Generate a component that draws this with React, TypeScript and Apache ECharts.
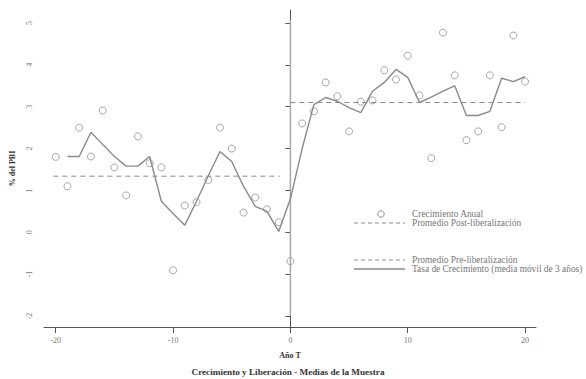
import React, { useEffect, useRef } from "react";
import * as echarts from "echarts";

const years = [-20, -19, -18, -17, -16, -15, -14, -13, -12, -11, -10, -9, -8, -7, -6, -5, -4, -3, -2, -1, 0, 1, 2, 3, 4, 5, 6, 7, 8, 9, 10, 11, 12, 13, 14, 15, 16, 17, 18, 19, 20];
const annualGrowth = [1.8, 1.1, 2.5, 1.81, 2.91, 1.55, 0.88, 2.29, 1.65, 1.55, -0.91, 0.64, 0.72, 1.25, 2.5, 2.0, 0.47, 0.83, 0.55, 0.24, -0.69, 2.6, 2.89, 3.58, 3.25, 2.41, 3.12, 3.15, 3.87, 3.65, 4.22, 3.27, 1.77, 4.77, 3.75, 2.2, 2.41, 3.75, 2.51, 4.7, 3.6];
const maYears = [-19, -18, -17, -16, -15, -14, -13, -12, -11, -10, -9, -8, -7, -6, -5, -4, -3, -2, -1, 0, 1, 2, 3, 4, 5, 6, 7, 8, 9, 10, 11, 12, 13, 14, 15, 16, 17, 18, 19, 20];
const movingAvg = [1.81, 1.81, 2.39, 2.1, 1.81, 1.58, 1.58, 1.81, 0.74, 0.45, 0.17, 0.74, 1.35, 1.93, 1.69, 1.1, 0.62, 0.5, 0.02, 0.8, 2.0, 3.05, 3.22, 3.13, 2.98, 2.86, 3.37, 3.58, 3.89, 3.7, 3.1, 3.23, 3.37, 3.5, 2.79, 2.79, 2.89, 3.68, 3.6, 3.72];
const preAvgX = [-20.2, -0.9];
const preAvg = 1.34;
const postAvgX = [0, 20];
const postAvg = 3.1;
const vLineY = [-2, 5.08];
const xTicks = [-20, -10, 0, 10, 20];
const yTicks = [-2, -1, 0, 1, 2, 3, 4, 5];

const names = {
  annual: "Crecimiento Anual",
  post: "Promedio Post-liberalización",
  pre: "Promedio Pre-liberalización",
  ma: "Tasa de Crecimiento (media móvil de 3 años)",
};

const FONT = "Liberation Serif";
const GREY = "#8a8a8a";
const TXT = "#777777";

export default function App() {
  const ref = useRef<HTMLDivElement>(null);
  useEffect(() => {
    if (!ref.current) return;
    const chart = echarts.init(ref.current, undefined, { renderer: "svg" });
    const lx0 = 354;
    const lx1 = 405;
    const tx = 412;
    const legendText = (text: string, y: number) => ({
      type: "text",
      x: tx,
      y,
      style: { text, fontFamily: FONT, fontSize: 9.4, fill: TXT, verticalAlign: "middle", align: "left" },
    });
    chart.setOption({
      animation: false,
      grid: { left: 40, top: 10, width: 496, height: 317 },
      xAxis: {
        type: "value",
        min: -21,
        max: 20.93,
        name: "Año T",
        nameLocation: "middle",
        nameGap: 24,
        nameTextStyle: { fontFamily: FONT, fontSize: 8, fontWeight: "bold", color: "#333" },
        axisLine: { show: true, onZero: false, lineStyle: { color: "#555", width: 1 } },
        axisTick: { show: true, customValues: xTicks, length: 6, lineStyle: { color: "#555" } },
        axisLabel: { customValues: xTicks, fontFamily: FONT, fontSize: 8, color: TXT, margin: 9 },
        splitLine: { show: false },
      },
      yAxis: {
        type: "value",
        min: -2.263,
        max: 5.31,
        name: "% del PBI",
        nameLocation: "middle",
        nameGap: 28,
        nameRotate: 90,
        nameTextStyle: { fontFamily: FONT, fontSize: 8, fontWeight: "bold", color: "#333" },
        axisLine: { show: true, lineStyle: { color: "#555", width: 1 } },
        axisTick: { show: true, customValues: yTicks, length: 5, lineStyle: { color: "#555" } },
        axisLabel: { customValues: yTicks, rotate: 90, fontFamily: FONT, fontSize: 8, color: TXT, margin: 11 },
        splitLine: { show: false },
      },
      title: {
        text: "Crecimiento y Liberación - Medias de la Muestra",
        left: 288,
        textAlign: "center",
        top: 367,
        textStyle: { fontFamily: FONT, fontSize: 9.2, fontWeight: "bold", color: "#333" },
        padding: 0,
      },
      graphic: [
        {
          type: "circle",
          shape: { cx: 381, cy: 214, r: 3.2 },
          style: { fill: "#fff", stroke: GREY, lineWidth: 1 },
        },
        legendText(names.annual, 214),
        {
          type: "line",
          shape: { x1: lx0, y1: 223, x2: lx1, y2: 223 },
          style: { stroke: GREY, lineWidth: 1, lineDash: [4, 3] },
        },
        legendText(names.post, 223),
        {
          type: "line",
          shape: { x1: lx0, y1: 260, x2: lx1, y2: 260 },
          style: { stroke: GREY, lineWidth: 1, lineDash: [4, 3] },
        },
        legendText(names.pre, 260),
        {
          type: "line",
          shape: { x1: lx0, y1: 269, x2: lx1, y2: 269 },
          style: { stroke: GREY, lineWidth: 1.3 },
        },
        legendText(names.ma, 269),
      ],
      series: [
        {
          name: "vline",
          type: "line",
          data: vLineY.map((y) => [0, y]),
          symbol: "none",
          lineStyle: { color: "#a8a8a8", width: 1.5 },
          silent: true,
        },
        {
          name: names.post,
          type: "line",
          data: postAvgX.map((x) => [x, postAvg]),
          symbol: "none",
          lineStyle: { color: GREY, width: 1, type: [5, 4] },
        },
        {
          name: names.pre,
          type: "line",
          data: preAvgX.map((x) => [x, preAvg]),
          symbol: "none",
          lineStyle: { color: GREY, width: 1, type: [5, 4] },
        },
        {
          name: names.ma,
          type: "line",
          data: maYears.map((x, i) => [x, movingAvg[i]]),
          symbol: "none",
          lineStyle: { color: GREY, width: 1.4 },
        },
        {
          name: names.annual,
          type: "scatter",
          data: years.map((x, i) => [x, annualGrowth[i]]),
          symbol: "circle",
          symbolSize: 7,
          itemStyle: { color: "rgba(255,255,255,0)", borderColor: "#909090", borderWidth: 1 },
        },
      ],
    });
    return () => chart.dispose();
  }, []);
  return <div ref={ref} style={{ width: 586, height: 379, position: "fixed", left: 0, top: 0, background: "#fff" }} />;
}
